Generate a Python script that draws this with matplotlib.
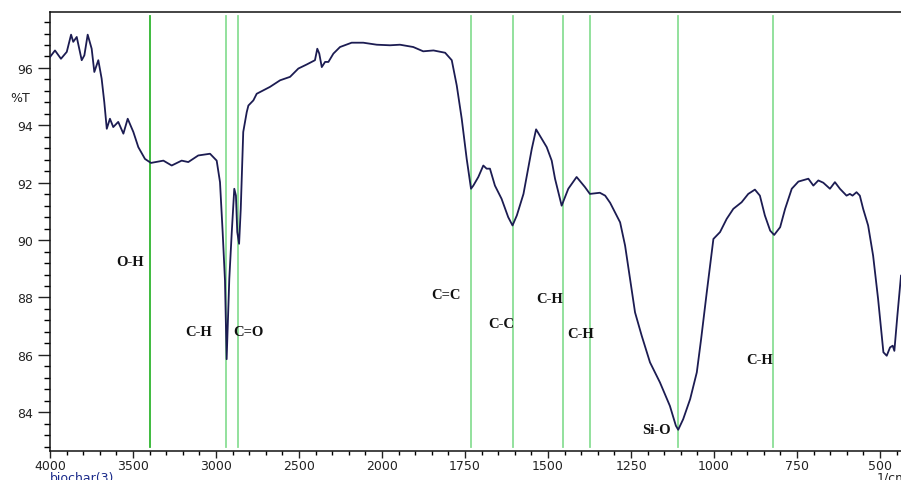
import matplotlib

matplotlib.use("Agg")
import matplotlib.pyplot as plt
import numpy as np
from matplotlib.ticker import FixedLocator, MultipleLocator

# FTIR spectrum of biochar(3)
WAVENUMBER = [
    4000, 3970, 3934, 3899, 3873, 3860, 3839, 3809, 3793, 3773, 3749, 3733,
    3709, 3689, 3673, 3658, 3639, 3619, 3589, 3558, 3532, 3498, 3468, 3428,
    3392, 3317, 3267, 3207, 3167, 3107, 3036, 3016, 2996, 2976, 2960, 2946,
    2936, 2920, 2905, 2890, 2880, 2872, 2861, 2851, 2836, 2815, 2805, 2775,
    2755, 2675, 2614, 2554, 2504, 2454, 2404, 2390, 2378, 2363, 2343, 2323,
    2293, 2253, 2183, 2113, 2032, 1976, 1946, 1906, 1876, 1845, 1810, 1790,
    1775, 1760, 1745, 1732, 1725, 1710, 1695, 1685, 1675, 1660, 1640, 1620,
    1607, 1594, 1574, 1549, 1536, 1519, 1504, 1489, 1479, 1459, 1439, 1414,
    1389, 1374, 1344, 1328, 1313, 1283, 1268, 1253, 1238, 1218, 1193, 1163,
    1133, 1115, 1108, 1093, 1072, 1052, 1039, 1022, 1002, 982, 962, 942,
    917, 897, 877, 862, 847, 831, 819, 801, 786, 766, 746, 716,
    701, 686, 671, 651, 636, 621, 601, 591, 583, 571, 561, 551,
    536, 521, 506, 490, 480, 470, 462, 457, 448, 437,
]
TRANSMITTANCE = [
    96.38, 96.61, 96.32, 96.56, 97.16, 96.91, 97.08, 96.27, 96.44, 97.16, 96.67, 95.86,
    96.27, 95.63, 94.81, 93.88, 94.23, 93.94, 94.12, 93.71, 94.23, 93.77, 93.24, 92.83,
    92.69, 92.77, 92.60, 92.77, 92.72, 92.95, 93.01, 92.89, 92.77, 92.02, 90.28, 88.59,
    85.85, 88.65, 90.29, 91.79, 91.55, 90.28, 89.87, 91.09, 93.77, 94.46, 94.69, 94.87,
    95.10, 95.34, 95.57, 95.69, 95.98, 96.12, 96.27, 96.67, 96.50, 96.03, 96.21, 96.21,
    96.50, 96.73, 96.88, 96.88, 96.81, 96.79, 96.81, 96.73, 96.58, 96.61, 96.53, 96.27,
    95.39, 94.23, 92.83, 91.79, 91.90, 92.20, 92.60, 92.49, 92.49, 91.90, 91.44, 90.80,
    90.51, 90.86, 91.61, 93.18, 93.86, 93.53, 93.24, 92.77, 92.14, 91.20, 91.79, 92.20,
    91.85, 91.61, 91.65, 91.55, 91.30, 90.62, 89.81, 88.65, 87.48, 86.67, 85.74, 85.04,
    84.22, 83.53, 83.39, 83.76, 84.46, 85.39, 86.55, 88.18, 90.04, 90.28, 90.74, 91.09,
    91.32, 91.61, 91.76, 91.55, 90.86, 90.33, 90.18, 90.45, 91.09, 91.79, 92.04, 92.14,
    91.90, 92.08, 92.00, 91.79, 92.02, 91.79, 91.55, 91.61, 91.55, 91.67, 91.55, 91.09,
    90.51, 89.46, 87.95, 86.09, 85.97, 86.26, 86.32, 86.14, 87.36, 88.76,
]

# marked absorption bands
PEAK_LINES = [3395, 2940, 2869, 1731, 1605, 1456, 1374, 1108, 821]
LABELS = ["O-H", "C-H", "C=O", "C=C", "C-C", "C-H", "C-H", "Si-O", "C-H"]
LABEL_X = [3518, 3102, 2807, 1807, 1642, 1494, 1401, 1173, 862]
LABEL_Y = [89.27, 86.83, 86.83, 88.09, 87.08, 87.95, 86.73, 83.41, 85.85]

X_MAJOR = [4000, 3500, 3000, 2500, 2000, 1750, 1500, 1250, 1000, 750, 500]


# instrument-style axis: 2x expansion below 2000 1/cm
def fwd(w):
    w = np.asarray(w, dtype=float)
    return np.where(w >= 2000, (w - 2000) / 500, (w - 2000) / 250)


def inv(v):
    v = np.asarray(v, dtype=float)
    return np.where(v >= 0, 2000 + 500 * v, 2000 + 250 * v)


fig = plt.figure(figsize=(9.01, 4.81), dpi=100)
ax = fig.add_axes([50 / 901, 1 - 452 / 481, 1 - 50 / 901, (452 - 13) / 481])
ax.set_xscale("function", functions=(fwd, inv))

for i, w in enumerate(PEAK_LINES):
    colour = "#2fb52f" if i == 0 else "#8ade95"
    ax.axvline(w, ymin=0.01, ymax=0.99, color=colour, lw=1.3, zorder=1)

ax.plot(WAVENUMBER, TRANSMITTANCE, color="#1c1c52", lw=1.3, zorder=3)

for text, x, y in zip(LABELS, LABEL_X, LABEL_Y):
    ax.text(x, y, text, ha="center", va="center", fontsize=10.5,
            family="Liberation Serif", fontweight="bold", color="#111111",
            zorder=4)

ax.set_xlim(4000, 437)
ax.set_ylim(82.65, 97.95)

ax.xaxis.set_major_locator(FixedLocator(X_MAJOR))
ax.xaxis.set_minor_locator(FixedLocator(
    list(range(4000, 2000, -100)) + list(range(2000, 440, -50))))
ax.set_xticklabels([str(v) for v in X_MAJOR])
ax.yaxis.set_major_locator(MultipleLocator(2))
ax.yaxis.set_minor_locator(MultipleLocator(0.4))

ax.tick_params(axis="x", which="major", length=5, width=1, pad=1,
               labelsize=9, colors="#222222")
ax.tick_params(axis="x", which="minor", length=3, width=1)
ax.tick_params(axis="y", which="major", length=9, width=1, pad=3,
               labelsize=9, colors="#222222")
ax.tick_params(axis="y", which="minor", length=4, width=1)
ax.spines["right"].set_visible(False)
for s in ("left", "bottom", "top"):
    ax.spines[s].set_linewidth(1.1)
    ax.spines[s].set_color("#111111")

fig.text(10 / 901, 1 - 98 / 481, "%T", fontsize=9, va="center", color="#222222")
fig.text(50 / 901, 1 - 472 / 481, "biochar(3)", fontsize=9, va="top",
         color="#1a2a8a")
fig.text(877 / 901, 1 - 472 / 481, "1/cm", fontsize=9, va="top",
         color="#222222")

fig.savefig("out.png", dpi=100)
